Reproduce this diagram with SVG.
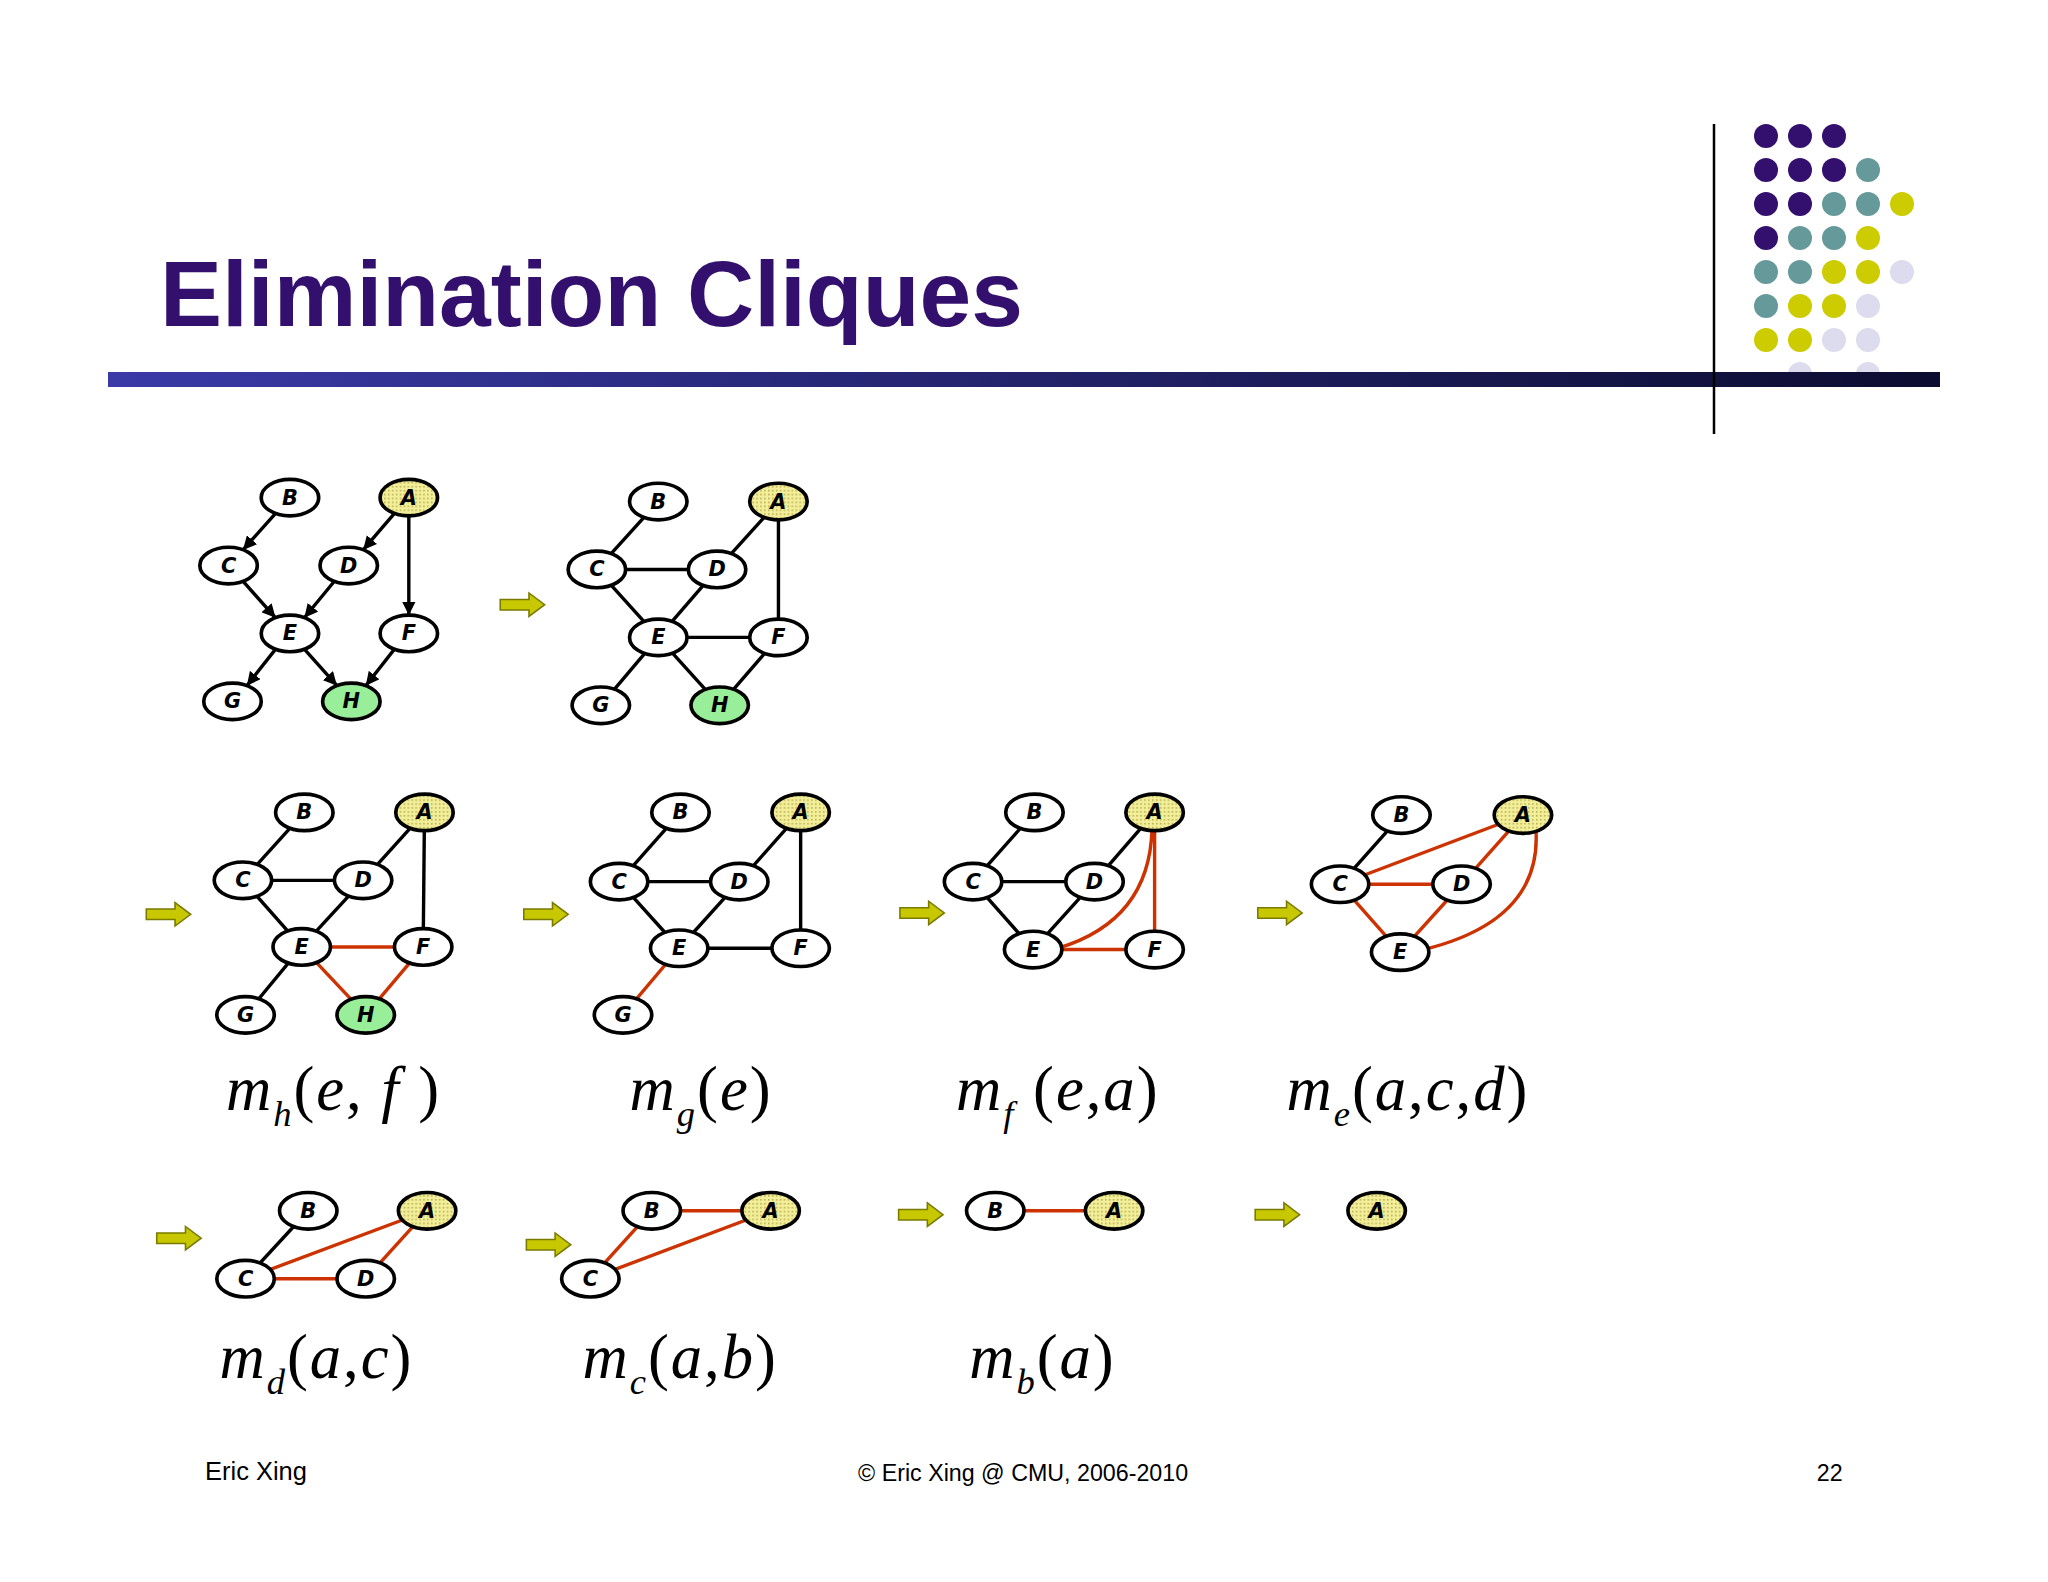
<svg xmlns="http://www.w3.org/2000/svg" width="2048" height="1582" viewBox="0 0 2048 1582">
<defs>
<linearGradient id="bar" x1="0" x2="1" y1="0" y2="0"><stop offset="0" stop-color="#3a3aa8"/><stop offset="1" stop-color="#0c0c30"/></linearGradient>
<pattern id="dots" width="3" height="3" patternUnits="userSpaceOnUse"><rect width="3" height="3" fill="#f2ee9a"/><rect width="1.2" height="1.2" fill="#b8b050"/></pattern>
<marker id="ah" viewBox="0 0 10 10" refX="10" refY="5" markerWidth="4" markerHeight="4" orient="auto"><path d="M0,0 L10,5 L0,10 z" fill="#000"/></marker>
<g id="arr"><path d="M-17,-4 L5,-4 L5,-9 L17,0 L5,9 L5,4 L-17,4 z" fill="#c8c800" stroke="#7a7a00" stroke-width="1.2"/></g>
</defs>
<style>
.n ellipse{fill:#fff;stroke:#000;stroke-width:2.8}
.n ellipse.a{fill:url(#dots)}
.n ellipse.h{fill:#99ee99}
.n text{font-family:"DejaVu Sans",sans-serif;font-style:italic;font-weight:bold;font-size:16px;text-anchor:middle;dominant-baseline:central}
.e line,.e path{stroke:#000;stroke-width:2.6;fill:none}
.e .r{stroke:#cc3300}
.m{font-family:"Liberation Serif",serif;font-style:italic;font-size:48px;fill:#000;letter-spacing:1.5px}
.m tspan.s{font-size:28px}
.ft{font-family:"Liberation Sans",sans-serif;fill:#000}
.dt circle{stroke:none}
</style>
<rect width="2048" height="1582" fill="#fff"/>
<text x="160" y="326" font-family="Liberation Sans,sans-serif" font-weight="bold" font-size="93" fill="#33106e">Elimination Cliques</text>
<g class="dt">
<circle cx="1766" cy="136" r="12" fill="#33106e"/><circle cx="1800" cy="136" r="12" fill="#33106e"/><circle cx="1834" cy="136" r="12" fill="#33106e"/>
<circle cx="1766" cy="170" r="12" fill="#33106e"/><circle cx="1800" cy="170" r="12" fill="#33106e"/><circle cx="1834" cy="170" r="12" fill="#33106e"/><circle cx="1868" cy="170" r="12" fill="#669999"/>
<circle cx="1766" cy="204" r="12" fill="#33106e"/><circle cx="1800" cy="204" r="12" fill="#33106e"/><circle cx="1834" cy="204" r="12" fill="#669999"/><circle cx="1868" cy="204" r="12" fill="#669999"/><circle cx="1902" cy="204" r="12" fill="#cccc00"/>
<circle cx="1766" cy="238" r="12" fill="#33106e"/><circle cx="1800" cy="238" r="12" fill="#669999"/><circle cx="1834" cy="238" r="12" fill="#669999"/><circle cx="1868" cy="238" r="12" fill="#cccc00"/>
<circle cx="1766" cy="272" r="12" fill="#669999"/><circle cx="1800" cy="272" r="12" fill="#669999"/><circle cx="1834" cy="272" r="12" fill="#cccc00"/><circle cx="1868" cy="272" r="12" fill="#cccc00"/><circle cx="1902" cy="272" r="12" fill="#dcdcee"/>
<circle cx="1766" cy="306" r="12" fill="#669999"/><circle cx="1800" cy="306" r="12" fill="#cccc00"/><circle cx="1834" cy="306" r="12" fill="#cccc00"/><circle cx="1868" cy="306" r="12" fill="#dcdcee"/>
<circle cx="1766" cy="340" r="12" fill="#cccc00"/><circle cx="1800" cy="340" r="12" fill="#cccc00"/><circle cx="1834" cy="340" r="12" fill="#dcdcee"/><circle cx="1868" cy="340" r="12" fill="#dcdcee"/>
<circle cx="1800" cy="374" r="12" fill="#dcdcee"/><circle cx="1868" cy="374" r="12" fill="#dcdcee"/>
</g>
<rect x="108" y="372" width="1832" height="15" fill="url(#bar)"/>
<line x1="1714" y1="124" x2="1714" y2="434" stroke="#000" stroke-width="2.5"/>
<g transform="scale(1.30612)">
<g id="connectors" class="e">
<line x1="211" y1="393" x2="186" y2="421" marker-end="url(#ah)"/>
<line x1="302" y1="393" x2="278" y2="421" marker-end="url(#ah)"/>
<line x1="313" y1="395" x2="313" y2="471" marker-end="url(#ah)"/>
<line x1="186" y1="445" x2="211" y2="473" marker-end="url(#ah)"/>
<line x1="256" y1="445" x2="233" y2="473" marker-end="url(#ah)"/>
<line x1="211" y1="497" x2="189" y2="525" marker-end="url(#ah)"/>
<line x1="233" y1="497" x2="258" y2="525" marker-end="url(#ah)"/>
<line x1="302" y1="497" x2="280" y2="525" marker-end="url(#ah)"/>
<line x1="504" y1="384" x2="457" y2="436"/><line x1="457" y1="436" x2="549" y2="436"/><line x1="596" y1="384" x2="549" y2="436"/><line x1="596" y1="384" x2="596" y2="488"/>
<line x1="457" y1="436" x2="504" y2="488"/><line x1="549" y1="436" x2="504" y2="488"/><line x1="504" y1="488" x2="596" y2="488"/><line x1="504" y1="488" x2="460" y2="540"/><line x1="504" y1="488" x2="551" y2="540"/><line x1="596" y1="488" x2="551" y2="540"/>
<line x1="233" y1="622" x2="186" y2="674"/><line x1="186" y1="674" x2="278" y2="674"/><line x1="325" y1="622" x2="278" y2="674"/><line x1="325" y1="622" x2="324" y2="725"/>
<line x1="186" y1="674" x2="231" y2="725"/><line x1="278" y1="674" x2="231" y2="725"/><line x1="231" y1="725" x2="188" y2="777"/>
<line class="r" x1="231" y1="725" x2="324" y2="725"/><line class="r" x1="231" y1="725" x2="280" y2="777"/><line class="r" x1="324" y1="725" x2="280" y2="777"/>
<line x1="521" y1="622" x2="474" y2="675"/><line x1="474" y1="675" x2="566" y2="675"/><line x1="613" y1="622" x2="566" y2="675"/><line x1="613" y1="622" x2="613" y2="726"/>
<line x1="474" y1="675" x2="520" y2="726"/><line x1="566" y1="675" x2="520" y2="726"/><line x1="520" y1="726" x2="613" y2="726"/><line class="r" x1="520" y1="726" x2="477" y2="777"/>
<line x1="792" y1="622" x2="745" y2="675"/><line x1="745" y1="675" x2="838" y2="675"/><line x1="884" y1="622" x2="838" y2="675"/>
<line x1="745" y1="675" x2="791" y2="727"/><line x1="838" y1="675" x2="791" y2="727"/>
<line class="r" x1="791" y1="727" x2="884" y2="727"/><line class="r" x1="884" y1="622" x2="884" y2="727"/>
<path class="r" d="M882,635 Q880,705 810,726"/>
<line x1="1073" y1="624" x2="1026" y2="677"/>
<line class="r" x1="1026" y1="677" x2="1166" y2="624"/><line class="r" x1="1026" y1="677" x2="1119" y2="677"/><line class="r" x1="1166" y1="624" x2="1119" y2="677"/>
<line class="r" x1="1026" y1="677" x2="1072" y2="729"/><line class="r" x1="1119" y1="677" x2="1072" y2="729"/>
<path class="r" d="M1090,727 Q1180,705 1176,636"/>
<line x1="236" y1="927" x2="188" y2="979"/>
<line class="r" x1="188" y1="979" x2="327" y2="927"/><line class="r" x1="188" y1="979" x2="280" y2="979"/><line class="r" x1="327" y1="927" x2="280" y2="979"/>
<line class="r" x1="499" y1="927" x2="590" y2="927"/><line class="r" x1="499" y1="927" x2="452" y2="979"/><line class="r" x1="452" y1="979" x2="590" y2="927"/>
<line class="r" x1="762" y1="927" x2="853" y2="927"/>
</g>
<g id="g1">
<g id="g1B" class="n"><ellipse cx="222" cy="381" rx="22" ry="14"/><text x="222" y="381">B</text></g>
<g id="g1A" class="n"><ellipse class="a" cx="313" cy="381" rx="22" ry="14"/><text x="313" y="381">A</text></g>
<g id="g1C" class="n"><ellipse cx="175" cy="433" rx="22" ry="14"/><text x="175" y="433">C</text></g>
<g id="g1D" class="n"><ellipse cx="267" cy="433" rx="22" ry="14"/><text x="267" y="433">D</text></g>
<g id="g1E" class="n"><ellipse cx="222" cy="485" rx="22" ry="14"/><text x="222" y="485">E</text></g>
<g id="g1F" class="n"><ellipse cx="313" cy="485" rx="22" ry="14"/><text x="313" y="485">F</text></g>
<g id="g1G" class="n"><ellipse cx="178" cy="537" rx="22" ry="14"/><text x="178" y="537">G</text></g>
<g id="g1H" class="n"><ellipse class="h" cx="269" cy="537" rx="22" ry="14"/><text x="269" y="537">H</text></g>
</g>
<g id="g2">
<g id="g2B" class="n"><ellipse cx="504" cy="384" rx="22" ry="14"/><text x="504" y="384">B</text></g>
<g id="g2A" class="n"><ellipse class="a" cx="596" cy="384" rx="22" ry="14"/><text x="596" y="384">A</text></g>
<g id="g2C" class="n"><ellipse cx="457" cy="436" rx="22" ry="14"/><text x="457" y="436">C</text></g>
<g id="g2D" class="n"><ellipse cx="549" cy="436" rx="22" ry="14"/><text x="549" y="436">D</text></g>
<g id="g2E" class="n"><ellipse cx="504" cy="488" rx="22" ry="14"/><text x="504" y="488">E</text></g>
<g id="g2F" class="n"><ellipse cx="596" cy="488" rx="22" ry="14"/><text x="596" y="488">F</text></g>
<g id="g2G" class="n"><ellipse cx="460" cy="540" rx="22" ry="14"/><text x="460" y="540">G</text></g>
<g id="g2H" class="n"><ellipse class="h" cx="551" cy="540" rx="22" ry="14"/><text x="551" y="540">H</text></g>
</g>
<g id="g3">
<g id="g3B" class="n"><ellipse cx="233" cy="622" rx="22" ry="14"/><text x="233" y="622">B</text></g>
<g id="g3A" class="n"><ellipse class="a" cx="325" cy="622" rx="22" ry="14"/><text x="325" y="622">A</text></g>
<g id="g3C" class="n"><ellipse cx="186" cy="674" rx="22" ry="14"/><text x="186" y="674">C</text></g>
<g id="g3D" class="n"><ellipse cx="278" cy="674" rx="22" ry="14"/><text x="278" y="674">D</text></g>
<g id="g3E" class="n"><ellipse cx="231" cy="725" rx="22" ry="14"/><text x="231" y="725">E</text></g>
<g id="g3F" class="n"><ellipse cx="324" cy="725" rx="22" ry="14"/><text x="324" y="725">F</text></g>
<g id="g3G" class="n"><ellipse cx="188" cy="777" rx="22" ry="14"/><text x="188" y="777">G</text></g>
<g id="g3H" class="n"><ellipse class="h" cx="280" cy="777" rx="22" ry="14"/><text x="280" y="777">H</text></g>
</g>
<g id="g4">
<g id="g4B" class="n"><ellipse cx="521" cy="622" rx="22" ry="14"/><text x="521" y="622">B</text></g>
<g id="g4A" class="n"><ellipse class="a" cx="613" cy="622" rx="22" ry="14"/><text x="613" y="622">A</text></g>
<g id="g4C" class="n"><ellipse cx="474" cy="675" rx="22" ry="14"/><text x="474" y="675">C</text></g>
<g id="g4D" class="n"><ellipse cx="566" cy="675" rx="22" ry="14"/><text x="566" y="675">D</text></g>
<g id="g4E" class="n"><ellipse cx="520" cy="726" rx="22" ry="14"/><text x="520" y="726">E</text></g>
<g id="g4F" class="n"><ellipse cx="613" cy="726" rx="22" ry="14"/><text x="613" y="726">F</text></g>
<g id="g4G" class="n"><ellipse cx="477" cy="777" rx="22" ry="14"/><text x="477" y="777">G</text></g>
</g>
<g id="g5">
<g id="g5B" class="n"><ellipse cx="792" cy="622" rx="22" ry="14"/><text x="792" y="622">B</text></g>
<g id="g5A" class="n"><ellipse class="a" cx="884" cy="622" rx="22" ry="14"/><text x="884" y="622">A</text></g>
<g id="g5C" class="n"><ellipse cx="745" cy="675" rx="22" ry="14"/><text x="745" y="675">C</text></g>
<g id="g5D" class="n"><ellipse cx="838" cy="675" rx="22" ry="14"/><text x="838" y="675">D</text></g>
<g id="g5E" class="n"><ellipse cx="791" cy="727" rx="22" ry="14"/><text x="791" y="727">E</text></g>
<g id="g5F" class="n"><ellipse cx="884" cy="727" rx="22" ry="14"/><text x="884" y="727">F</text></g>
</g>
<g id="g6">
<g id="g6B" class="n"><ellipse cx="1073" cy="624" rx="22" ry="14"/><text x="1073" y="624">B</text></g>
<g id="g6A" class="n"><ellipse class="a" cx="1166" cy="624" rx="22" ry="14"/><text x="1166" y="624">A</text></g>
<g id="g6C" class="n"><ellipse cx="1026" cy="677" rx="22" ry="14"/><text x="1026" y="677">C</text></g>
<g id="g6D" class="n"><ellipse cx="1119" cy="677" rx="22" ry="14"/><text x="1119" y="677">D</text></g>
<g id="g6E" class="n"><ellipse cx="1072" cy="729" rx="22" ry="14"/><text x="1072" y="729">E</text></g>
</g>
<g id="g7">
<g id="g7B" class="n"><ellipse cx="236" cy="927" rx="22" ry="14"/><text x="236" y="927">B</text></g>
<g id="g7A" class="n"><ellipse class="a" cx="327" cy="927" rx="22" ry="14"/><text x="327" y="927">A</text></g>
<g id="g7C" class="n"><ellipse cx="188" cy="979" rx="22" ry="14"/><text x="188" y="979">C</text></g>
<g id="g7D" class="n"><ellipse cx="280" cy="979" rx="22" ry="14"/><text x="280" y="979">D</text></g>
</g>
<g id="g8">
<g id="g8B" class="n"><ellipse cx="499" cy="927" rx="22" ry="14"/><text x="499" y="927">B</text></g>
<g id="g8A" class="n"><ellipse class="a" cx="590" cy="927" rx="22" ry="14"/><text x="590" y="927">A</text></g>
<g id="g8C" class="n"><ellipse cx="452" cy="979" rx="22" ry="14"/><text x="452" y="979">C</text></g>
</g>
<g id="g9">
<g id="g9B" class="n"><ellipse cx="762" cy="927" rx="22" ry="14"/><text x="762" y="927">B</text></g>
<g id="g9A" class="n"><ellipse class="a" cx="853" cy="927" rx="22" ry="14"/><text x="853" y="927">A</text></g>
</g>
<g id="g10">
<g id="g10A" class="n"><ellipse class="a" cx="1054" cy="927" rx="22" ry="14"/><text x="1054" y="927">A</text></g>
</g>
<g id="arrows">
<use href="#arr" x="400" y="463"/><use href="#arr" x="129" y="700"/><use href="#arr" x="418" y="700"/><use href="#arr" x="706" y="699"/><use href="#arr" x="980" y="699"/>
<use href="#arr" x="137" y="948"/><use href="#arr" x="420" y="953"/><use href="#arr" x="705" y="930"/><use href="#arr" x="978" y="930"/>
</g>
<g id="labels">
<text class="m" x="173" y="850">m<tspan class="s" dy="12">h</tspan><tspan font-style="normal" dy="-12">(</tspan>e<tspan font-style="normal">, </tspan>f<tspan font-style="normal"> )</tspan></text>
<text class="m" x="482" y="850">m<tspan class="s" dy="12">g</tspan><tspan font-style="normal" dy="-12">(</tspan>e<tspan font-style="normal">)</tspan></text>
<text class="m" x="732" y="850">m<tspan class="s" dy="12">f</tspan><tspan font-style="normal" dy="-12"> (</tspan>e<tspan font-style="normal">,</tspan>a<tspan font-style="normal">)</tspan></text>
<text class="m" x="985" y="850">m<tspan class="s" dy="12">e</tspan><tspan font-style="normal" dy="-12">(</tspan>a<tspan font-style="normal">,</tspan>c<tspan font-style="normal">,</tspan>d<tspan font-style="normal">)</tspan></text>
<text class="m" x="168" y="1055">m<tspan class="s" dy="12">d</tspan><tspan font-style="normal" dy="-12">(</tspan>a<tspan font-style="normal">,</tspan>c<tspan font-style="normal">)</tspan></text>
<text class="m" x="446" y="1055">m<tspan class="s" dy="12">c</tspan><tspan font-style="normal" dy="-12">(</tspan>a<tspan font-style="normal">,</tspan>b<tspan font-style="normal">)</tspan></text>
<text class="m" x="742" y="1055">m<tspan class="s" dy="12">b</tspan><tspan font-style="normal" dy="-12">(</tspan>a<tspan font-style="normal">)</tspan></text>
</g>
<text class="ft" x="157" y="1133" font-size="19.5">Eric Xing</text>
<text class="ft" x="657" y="1134" font-size="17.8">© Eric Xing @ CMU, 2006-2010</text>
<text class="ft" x="1391" y="1134" font-size="17.8">22</text>
</g>
</svg>
